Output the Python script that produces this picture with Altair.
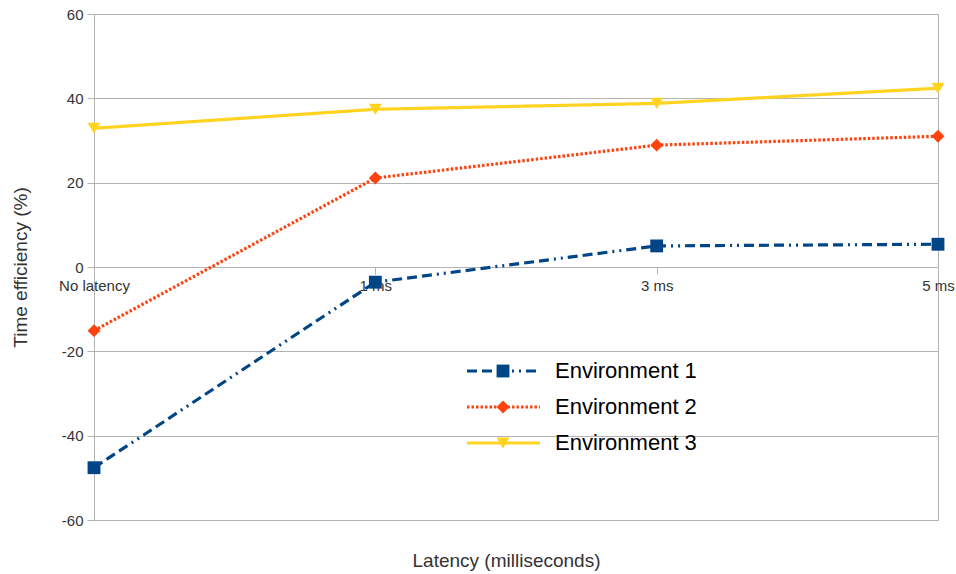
import altair as alt
import pandas as pd

# Latency settings along the x axis
categories = ["No latency", "1 ms", "3 ms", "5 ms"]

# Time efficiency (%) per environment
series_names = ["Environment 1", "Environment 2", "Environment 3"]
env1 = [-47.6, -3.6, 5.0, 5.4]
env2 = [-15.1, 21.1, 28.9, 31.0]
env3 = [32.9, 37.4, 38.8, 42.4]

colors = ["#004586", "#ff420e", "#ffd320"]
dashes = [[10, 5, 10, 5, 10, 5, 2, 5, 2, 5], [2.5, 2], [1, 0]]
shapes = ["square", "diamond", "triangle-down"]

rows = []
for name, vals in zip(series_names, [env1, env2, env3]):
    for cat, v in zip(categories, vals):
        rows.append({"latency": cat, "efficiency": v, "series": name})
df = pd.DataFrame(rows)
legend_df = pd.DataFrame({"series": series_names, "row": list(range(len(series_names)))})

color_scale = alt.Scale(domain=series_names, range=colors)
dash_scale = alt.Scale(domain=series_names, range=dashes)
shape_scale = alt.Scale(domain=series_names, range=shapes)

PLOT_W, PLOT_H = 844, 506

x_enc = alt.X(
    "latency:N",
    sort=categories,
    scale=alt.Scale(type="point", padding=0),
    axis=alt.Axis(
        title="Latency (milliseconds)",
        labelAngle=0,
        labelFlush=False,
        labelOverlap=False,
        offset=-PLOT_H / 2,
        tickSize=7,
        labelPadding=4,
        grid=False,
        titleX=412,
        titleY=293,
        titleBaseline="middle",
        titleAnchor="start",
        titleAlign="center",
    ),
)
y_enc = alt.Y(
    "efficiency:Q",
    scale=alt.Scale(domain=[-60, 60], nice=False),
    axis=alt.Axis(
        title="Time efficiency (%)",
        values=[-60, -40, -20, 0, 20, 40, 60],
        labelExpr="'' + datum.value",
        tickSize=7,
        labelPadding=4,
        titleX=-74,
        titleY=PLOT_H / 2,
        titleAngle=-90,
        titleBaseline="middle",
        titleAlign="center",
    ),
)

base = alt.Chart(df)
lines = base.mark_line(strokeWidth=3.2, strokeCap="butt").encode(
    x=x_enc,
    y=y_enc,
    color=alt.Color("series:N", scale=color_scale, legend=None),
    strokeDash=alt.StrokeDash("series:N", scale=dash_scale, legend=None),
)
points = base.mark_point(filled=True, opacity=1, size=165).encode(
    x=x_enc,
    y=y_enc,
    color=alt.Color("series:N", scale=color_scale, legend=None),
    shape=alt.Shape("series:N", scale=shape_scale, legend=None),
)
main = alt.layer(lines, points)

# Legend drawn inside the plot: line sample, marker and name per series
leg_y = alt.Y(
    "row:Q",
    scale=alt.Scale(domain=[0, 2], range=[357, 429]),
    axis=None,
)
leg_base = alt.Chart(legend_df)
leg_rule = leg_base.mark_rule(strokeWidth=3.2, strokeCap="butt").encode(
    x=alt.value(373),
    x2=alt.value(446),
    y=leg_y,
    color=alt.Color("series:N", scale=color_scale, legend=None),
    strokeDash=alt.StrokeDash("series:N", scale=dash_scale, legend=None),
)
leg_pt = leg_base.mark_point(filled=True, opacity=1, size=165).encode(
    x=alt.value(409),
    y=leg_y,
    color=alt.Color("series:N", scale=color_scale, legend=None),
    shape=alt.Shape("series:N", scale=shape_scale, legend=None),
)
leg_text = leg_base.mark_text(
    align="left", baseline="middle", fontSize=22, color="#000000",
    font="Liberation Sans",
).encode(
    x=alt.value(461),
    y=leg_y,
    text="series:N",
)
legend_layer = alt.layer(leg_rule, leg_pt, leg_text)

chart = (
    alt.layer(main, legend_layer)
    .resolve_scale(y="independent")
    .properties(
        width=PLOT_W,
        height=PLOT_H,
        autosize=alt.AutoSizeParams(type="none"),
        padding={"left": 94, "top": 14, "right": 18, "bottom": 54},
    )
    .configure(background="#ffffff")
    .configure_view(stroke="#b3b3b3", strokeWidth=1)
    .configure_axis(
        labelFont="Liberation Sans",
        titleFont="Liberation Sans",
        labelFontSize=15,
        titleFontSize=19,
        labelColor="#333333",
        titleColor="#333333",
        titleFontWeight="normal",
        domainColor="#b3b3b3",
        tickColor="#b3b3b3",
        gridColor="#b3b3b3",
        domainWidth=1,
        tickWidth=1,
        gridWidth=1,
    )
)

chart.save("out.html", embed_options={"renderer": "svg", "actions": False})
